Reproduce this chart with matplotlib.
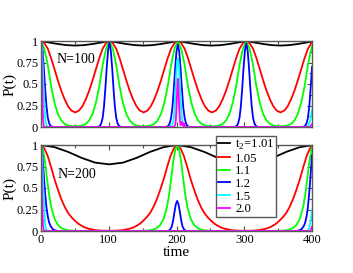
import matplotlib
matplotlib.use("Agg")
import matplotlib.pyplot as plt
from matplotlib.ticker import MultipleLocator

plt.rcParams['font.family'] = ['Liberation Serif', 'DejaVu Serif']
plt.rcParams['mathtext.fontset'] = 'custom'
plt.rcParams['mathtext.rm'] = 'Liberation Serif'

# ---------------- data ----------------
legend_labels = [r"t$_\mathregular{2}$=1.01", "1.05", "1.1", "1.2", "1.5", "2.0"]
colors = ["black", "#ff0000", "#00ff00", "#0000ff", "#00ffff", "#ff00ff"]
panel_labels = ["N=100", "N=200"]
x_ticks = [0, 100, 200, 300, 400]
y_ticks = [0, 0.25, 0.5, 0.75, 1]
y_tick_labels = ["0", "0.25", "0.5", "0.75", "1"]

# ---- N = 100 ----
black100_t = [0, 12.5, 25, 37.5, 50.5, 63.5, 76, 88.5,
              101, 113.5, 126, 138.5, 151.5, 164.5, 177, 189.5,
              202, 214.5, 227, 239.5, 252.5, 265.5, 278, 290.5,
              303, 315.5, 328, 340.5, 353.5, 366.5, 379, 391.5, 400]
black100_p = [1.0, 0.982, 0.965, 0.952, 0.947, 0.952, 0.965, 0.982,
              1.0, 0.982, 0.965, 0.952, 0.947, 0.952, 0.965, 0.982,
              1.0, 0.982, 0.965, 0.952, 0.947, 0.952, 0.965, 0.982,
              1.0, 0.982, 0.965, 0.952, 0.947, 0.952, 0.965, 0.982, 0.993]

rg100_t = [0, 5, 10, 15, 20, 25, 30, 35, 40, 45, 50.5, 56, 61, 66, 71, 76, 81, 86, 91, 96,
           101, 106, 111, 116, 121, 126, 131, 136, 141, 146, 151.5, 157, 162, 167, 172, 177, 182, 187, 192, 197,
           202, 207, 212, 217, 222, 227, 232, 237, 242, 247, 252.5, 258, 263, 268, 273, 278, 283, 288, 293, 298,
           303, 308, 313, 318, 323, 328, 333, 338, 343, 348, 353.5, 359, 364, 369, 374, 379, 384, 389, 394, 399,
           400]
red100_p = [1.0, 0.975, 0.91, 0.8, 0.67, 0.54, 0.42, 0.32, 0.24, 0.19, 0.17, 0.19, 0.24, 0.32, 0.42, 0.54, 0.67, 0.8, 0.91, 0.975,
            1.0, 0.975, 0.91, 0.8, 0.67, 0.54, 0.42, 0.32, 0.24, 0.19, 0.17, 0.19, 0.24, 0.32, 0.42, 0.54, 0.67, 0.8, 0.91, 0.975,
            1.0, 0.975, 0.91, 0.8, 0.67, 0.54, 0.42, 0.32, 0.24, 0.19, 0.17, 0.19, 0.24, 0.32, 0.42, 0.54, 0.67, 0.8, 0.91, 0.975,
            1.0, 0.975, 0.91, 0.8, 0.67, 0.54, 0.42, 0.32, 0.24, 0.19, 0.17, 0.19, 0.24, 0.32, 0.42, 0.54, 0.67, 0.8, 0.91, 0.975,
            0.985]
green100_p = [1.0, 0.91, 0.72, 0.47, 0.28, 0.15, 0.075, 0.035, 0.018, 0.011, 0.008, 0.011, 0.018, 0.035, 0.075, 0.15, 0.28, 0.47, 0.72, 0.91,
              1.0, 0.91, 0.72, 0.47, 0.28, 0.15, 0.075, 0.035, 0.018, 0.011, 0.008, 0.011, 0.018, 0.035, 0.075, 0.15, 0.28, 0.47, 0.72, 0.91,
              1.0, 0.91, 0.72, 0.47, 0.28, 0.15, 0.075, 0.035, 0.018, 0.011, 0.008, 0.011, 0.018, 0.035, 0.075, 0.15, 0.28, 0.47, 0.72, 0.91,
              1.0, 0.91, 0.72, 0.47, 0.28, 0.15, 0.075, 0.035, 0.018, 0.011, 0.008, 0.011, 0.018, 0.035, 0.075, 0.15, 0.28, 0.47, 0.72, 0.91,
              0.94]

blue100_t = [0, 2, 4, 6, 8, 10, 12, 14, 16, 20, 50,
             81, 85, 87, 89, 91, 93, 95, 97, 99, 101, 103, 105, 107, 109, 111, 113, 115, 117, 121, 151,
             182, 186, 188, 190, 192, 194, 196, 198, 200, 202, 204, 206, 208, 210, 212, 214, 216, 218, 222, 252,
             283, 287, 289, 291, 293, 295, 297, 299, 301, 303, 305, 307, 309, 311, 313, 315, 317, 319, 323, 353,
             384, 388, 390, 392, 394, 396, 398, 400]
blue100_p = [1.0, 0.92, 0.71, 0.46, 0.25, 0.11, 0.044, 0.014, 0.004, 0, 0,
             0, 0.004, 0.014, 0.043, 0.107, 0.24, 0.45, 0.69, 0.89, 0.98, 0.89, 0.69, 0.45, 0.24, 0.107, 0.043, 0.014, 0.004, 0, 0,
             0, 0.004, 0.014, 0.043, 0.106, 0.23, 0.44, 0.68, 0.88, 0.96, 0.88, 0.68, 0.44, 0.23, 0.106, 0.043, 0.014, 0.004, 0, 0,
             0, 0.004, 0.014, 0.043, 0.107, 0.24, 0.45, 0.69, 0.89, 0.97, 0.89, 0.69, 0.45, 0.24, 0.107, 0.043, 0.014, 0.004, 0, 0,
             0, 0.004, 0.014, 0.043, 0.107, 0.24, 0.45, 0.70]

cyan100_t = [0, 1, 2, 3, 4, 5, 6, 7, 8, 10,
             190, 194, 196, 197, 198, 199, 200, 201, 202, 203, 204, 205, 206, 207, 208, 210, 214,
             392, 394, 396, 398, 400]
cyan100_p = [1.0, 0.95, 0.82, 0.62, 0.42, 0.25, 0.12, 0.05, 0.02, 0,
             0, 0.03, 0.1, 0.2, 0.34, 0.5, 0.66, 0.76, 0.8, 0.76, 0.66, 0.5, 0.34, 0.2, 0.1, 0.03, 0,
             0, 0.01, 0.04, 0.1, 0.2]

magenta100_t = [0, 0.5, 1, 1.5, 2, 2.5, 3, 4, 5,
                196, 198, 199, 200, 201, 202, 203, 204, 205, 206, 207, 208, 209, 210, 211, 212, 214,
                396, 398, 400]
magenta100_p = [1.0, 0.93, 0.78, 0.58, 0.38, 0.2, 0.09, 0.01, 0,
                0, 0.02, 0.08, 0.22, 0.42, 0.56, 0.42, 0.22, 0.08, 0.02, 0.03, 0.06, 0.04, 0.01, 0.04, 0.02, 0,
                0, 0.01, 0.03]

# ---- N = 200 ----
black200_t = [0, 20, 40, 60, 80, 100.5, 121, 141, 161, 181,
              201, 221, 241, 261, 281, 301.5, 322, 342, 362, 382, 400]
black200_p = [1.0, 0.975, 0.92, 0.85, 0.795, 0.775, 0.795, 0.85, 0.92, 0.975,
              1.0, 0.975, 0.92, 0.85, 0.795, 0.775, 0.795, 0.85, 0.92, 0.975, 0.997]

red200_t = [0, 5, 10, 15, 20, 25, 30, 35, 40, 45, 50, 55, 60, 65, 70, 80, 90, 100.5,
            111, 121, 131, 136, 141, 146, 151, 156, 161, 166, 171, 176, 181, 186, 191, 196,
            201, 206, 211, 216, 221, 226, 231, 236, 241, 246, 251, 256, 261, 266, 271, 281, 291, 301.5,
            312, 322, 332, 337, 342, 347, 352, 357, 362, 367, 372, 377, 382, 387, 392, 397, 400]
red200_p = [1.0, 0.96, 0.87, 0.74, 0.6, 0.48, 0.37, 0.28, 0.21, 0.16, 0.12, 0.085, 0.06, 0.04, 0.027, 0.01, 0.004, 0.002,
            0.004, 0.01, 0.027, 0.04, 0.06, 0.085, 0.12, 0.16, 0.21, 0.28, 0.37, 0.48, 0.6, 0.74, 0.87, 0.96,
            1.0, 0.96, 0.87, 0.74, 0.6, 0.48, 0.37, 0.28, 0.21, 0.16, 0.12, 0.085, 0.06, 0.04, 0.027, 0.01, 0.004, 0.002,
            0.004, 0.01, 0.027, 0.04, 0.06, 0.085, 0.12, 0.16, 0.21, 0.28, 0.37, 0.48, 0.6, 0.74, 0.87, 0.96, 0.99]

green200_t = [0, 3, 6, 9, 12, 15, 20, 25, 30, 35, 40, 50, 60,
              141, 151, 161, 166, 171, 176, 181, 186, 189, 192, 195, 198, 201,
              204, 207, 210, 213, 216, 221, 226, 231, 236, 241, 251, 261,
              342, 352, 362, 367, 372, 377, 382, 387, 390, 393, 396, 399, 400]
green200_p = [1.0, 0.94, 0.8, 0.6, 0.42, 0.28, 0.14, 0.07, 0.035, 0.018, 0.008, 0.002, 0,
              0, 0.002, 0.008, 0.018, 0.035, 0.07, 0.14, 0.28, 0.42, 0.6, 0.8, 0.94, 1.0,
              0.94, 0.8, 0.6, 0.42, 0.28, 0.14, 0.07, 0.035, 0.018, 0.008, 0.002, 0,
              0, 0.002, 0.008, 0.018, 0.035, 0.07, 0.14, 0.28, 0.42, 0.6, 0.8, 0.94, 0.97]

blue200_t = [0, 2, 4, 6, 8, 10, 12, 14, 17, 20, 25,
             186, 189, 191, 193, 195, 197, 199, 201, 203, 205, 207, 209, 211, 213, 216,
             377, 382, 385, 388, 390, 392, 394, 396, 398, 400]
blue200_p = [1.0, 0.88, 0.66, 0.45, 0.28, 0.17, 0.1, 0.06, 0.025, 0.01, 0,
             0, 0.005, 0.02, 0.05, 0.12, 0.22, 0.31, 0.35, 0.31, 0.22, 0.12, 0.05, 0.02, 0.005, 0,
             0, 0.01, 0.025, 0.06, 0.1, 0.17, 0.28, 0.45, 0.66, 0.88]

cyan200_t = [0, 1, 2, 3, 4, 5, 6, 7, 8, 10, 392, 394, 396, 398, 400]
cyan200_p = [1.0, 0.93, 0.78, 0.58, 0.38, 0.22, 0.1, 0.04, 0.01, 0, 0, 0.01, 0.04, 0.12, 0.24]

magenta200_t = [0, 0.5, 1, 1.5, 2, 2.5, 3, 4, 5, 396, 398, 400]
magenta200_p = [1.0, 0.9, 0.7, 0.48, 0.28, 0.14, 0.06, 0.01, 0, 0, 0.01, 0.05]

panels = [
    [(black100_t, black100_p), (rg100_t, red100_p), (rg100_t, green100_p),
     (blue100_t, blue100_p), (cyan100_t, cyan100_p), (magenta100_t, magenta100_p)],
    [(black200_t, black200_p), (red200_t, red200_p), (green200_t, green200_p),
     (blue200_t, blue200_p), (cyan200_t, cyan200_p), (magenta200_t, magenta200_p)],
]

# ---------------- figure ----------------
W, H = 353, 273
fig = plt.figure(figsize=(W / 100, H / 100), dpi=100)
ax1 = fig.add_axes([41 / W, 1 - 127 / H, 271 / W, 86 / H])
ax2 = fig.add_axes([41 / W, 1 - 231 / H, 271 / W, 86 / H])

handles = []
for ax, series, plabel, ptxt in zip([ax1, ax2], panels, panel_labels, [(23.5, 0.78), (25, 0.66)]):
    for (t, p), c, lab in zip(series, colors, legend_labels):
        ln, = ax.plot(t, p, color=c, lw=1.3, label=lab)
        if ax is ax1:
            handles.append(ln)
    ax.set_xlim(0, 400)
    ax.set_ylim(0, 1)
    ax.set_xticks(x_ticks)
    ax.set_yticks(y_ticks)
    ax.set_yticklabels(y_tick_labels)
    ax.xaxis.set_minor_locator(MultipleLocator(50))
    ax.yaxis.set_minor_locator(MultipleLocator(0.125))
    ax.tick_params(which='both', direction='in', top=True, right=True,
                   width=0.8, color='0.3', labelsize=9, pad=2)
    ax.tick_params(which='major', length=3.5)
    ax.tick_params(which='minor', length=2.5)
    for s in ax.spines.values():
        s.set_color('0.35')
        s.set_linewidth(1.0)
    ax.text(ptxt[0], ptxt[1], plabel, fontsize=10, va='center', ha='left')

ax1.tick_params(labelbottom=False)

fig.text(10 / W, 1 - 84 / H, "P(t)", rotation=90, fontsize=11, ha='center', va='center')
fig.text(10 / W, 1 - 188 / H, "P(t)", rotation=90, fontsize=11, ha='center', va='center')
fig.text(176.5 / W, 1 - 252 / H, "time", fontsize=11, ha='center', va='center')

fig.legend(handles=handles, labels=legend_labels, loc='upper left',
           bbox_to_anchor=(216 / W, 1 - 136 / H), bbox_transform=fig.transFigure,
           borderaxespad=0, borderpad=0.15, handlelength=0.95, handletextpad=0.4,
           labelspacing=0.05, fontsize=9.2, frameon=True, fancybox=False,
           edgecolor='0.35', framealpha=1)

fig.savefig("out.png", dpi=100)
